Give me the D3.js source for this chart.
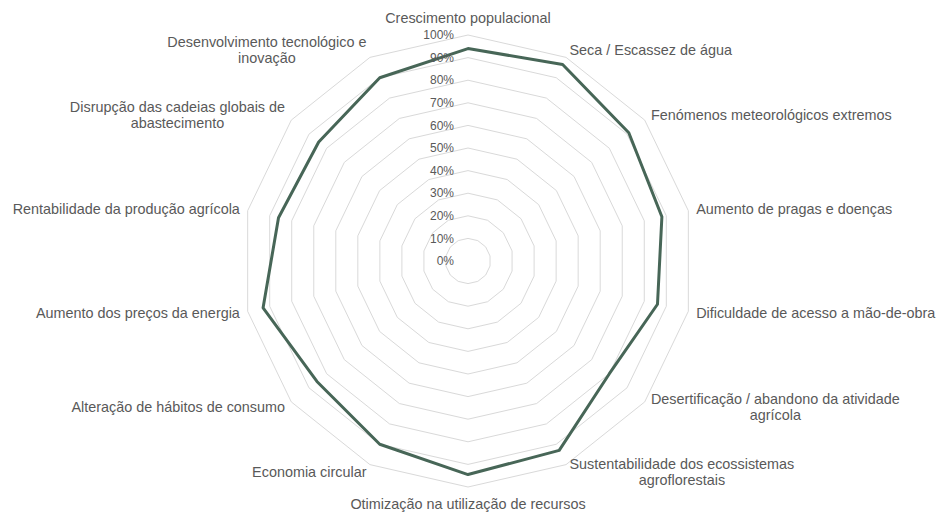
<!DOCTYPE html>
<html>
<head>
<meta charset="utf-8">
<script src="https://cdn.jsdelivr.net/npm/d3@7"></script>
<style>
  body { margin: 0; background: #fff; }
  text { font-family: "Liberation Sans", Arial, sans-serif; fill: #595959; }
</style>
</head>
<body>
<div class="radar"></div>
<script>
//Width and height of the svg
var widthSVG = 938;
var heightSVG = 513;
var cx = 468, cy = 261;
var radius = 226;

//categories, clockwise from the top (line breaks where the labels wrap)
var categorias = [
	["Crescimento populacional"],
	["Seca / Escassez de água"],
	["Fenómenos meteorológicos extremos"],
	["Aumento de pragas e doenças"],
	["Dificuldade de acesso a mão-de-obra"],
	["Desertificação / abandono da atividade", "agrícola"],
	["Sustentabilidade dos ecossistemas", "agroflorestais"],
	["Otimização na utilização de recursos"],
	["Economia circular"],
	["Alteração de hábitos de consumo"],
	["Aumento dos preços da energia"],
	["Rentabilidade da produção agrícola"],
	["Disrupção das cadeias globais de", "abastecimento"],
	["Desenvolvimento tecnológico e", "inovação"]
];
//values
var valores = [0.94, 0.965, 0.91, 0.88, 0.86, 0.80, 0.93, 0.945, 0.90, 0.855, 0.93, 0.86, 0.845, 0.90];
var ticks = [0, 0.1, 0.2, 0.3, 0.4, 0.5, 0.6, 0.7, 0.8, 0.9, 1];

var n = categorias.length;
var angle = d3.scalePoint().domain(d3.range(n + 1)).range([0, 2 * Math.PI]);
var rScale = d3.scaleLinear().domain([0, 1]).range([0, radius]);
var fmt = d3.format(".0%");

var svg = d3.select(".radar")
			.append("svg")
			.attr("width", widthSVG)
			.attr("height", heightSVG);

var g = svg.append("g").attr("transform", "translate(" + cx + "," + cy + ")");

//grid rings (polygons)
var ring = d3.lineRadial()
	.angle(function(d, i) { return angle(i); })
	.radius(function(d) { return rScale(d); })
	.curve(d3.curveLinearClosed);

g.selectAll(".anel")
	.data(ticks.filter(function(t) { return t > 0; }))
	.enter()
	.append("path")
	.attr("class", "anel")
	.attr("d", function(t) { return ring(d3.range(n).map(function() { return t; })); })
	.attr("fill", "none")
	.attr("stroke", "#d9d9d9")
	.attr("stroke-width", 1);

//data line
g.append("path")
	.datum(valores)
	.attr("d", ring)
	.attr("fill", "none")
	.attr("stroke", "#476657")
	.attr("stroke-width", 3)
	.attr("stroke-linejoin", "round");

//tick labels on the vertical axis
g.selectAll(".tick")
	.data(ticks)
	.enter()
	.append("text")
	.attr("class", "tick")
	.attr("x", -14)
	.attr("y", function(t) { return -rScale(t); })
	.attr("dy", "0.35em")
	.attr("text-anchor", "end")
	.style("font-size", "12px")
	.text(fmt);

//category labels
var lineH = 16;
var labels = g.selectAll(".cat")
	.data(categorias)
	.enter()
	.append("text")
	.attr("class", "cat")
	.style("font-size", "14.4px");

labels.each(function(linhas, i) {
	var a = angle(i);
	var s = Math.sin(a), c = Math.cos(a);
	var off = Math.abs(c) > 0.95 ? 17 : 8;
	var px = (radius + off) * s;
	var py = -(radius + off) * c;
	var el = d3.select(this);
	var spans = el.selectAll("tspan").data(linhas).enter().append("tspan").text(function(d) { return d; });
	//widest line of the block
	var maxW = 0;
	spans.each(function() { maxW = Math.max(maxW, this.getComputedTextLength()); });
	var mid;
	if (s > 0.1) mid = px + maxW / 2;
	else if (s < -0.1) mid = px - maxW / 2;
	else mid = px;
	var top = py - (linhas.length - 1) * lineH / 2;
	spans.attr("x", mid)
		.attr("y", function(d, j) { return top + j * lineH; })
		.attr("dy", "0.35em")
		.attr("text-anchor", "middle");
});
</script>
</body>
</html>
